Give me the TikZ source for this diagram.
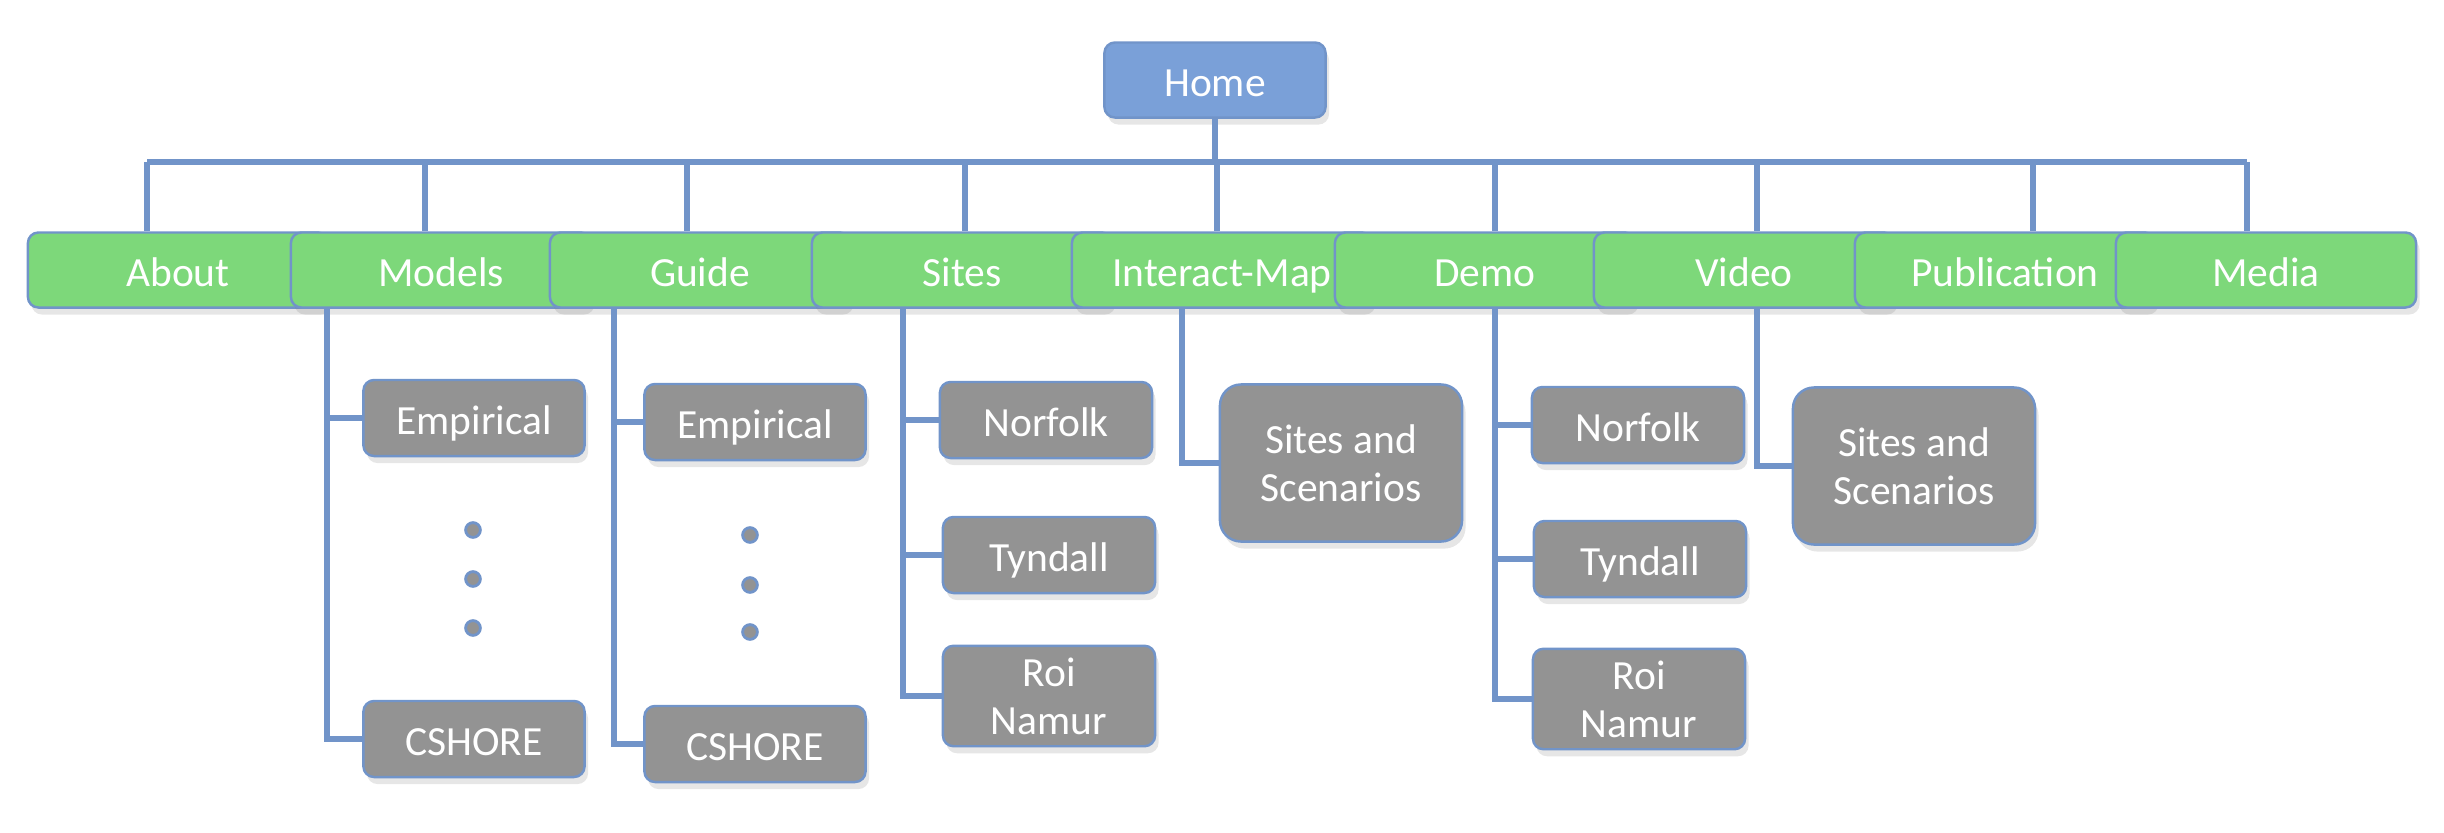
\documentclass[tikz,border=0pt]{standalone}
\usepackage{fontspec}
\setmainfont{Carlito}
\usetikzlibrary{shadows}
\definecolor{homeblue}{RGB}{122,160,216}
\definecolor{pagegreen}{RGB}{125,216,122}
\definecolor{subgray}{RGB}{147,147,147}
\definecolor{linkblue}{RGB}{113,148,201}

\begin{document}
\begin{tikzpicture}[x=0.01cm,y=-0.01cm,
  box/.style={draw=linkblue,line width=0.7pt,rounded corners=3pt,text=white,align=center,
    font=\fontsize{11.8}{13.7}\selectfont,
    drop shadow={opacity=0.2,shadow xshift=1pt,shadow yshift=-2pt}},
  oneline/.style={text height=10.5pt,text depth=1pt},
  home/.style={box,oneline,fill=homeblue,minimum width=2.21cm,minimum height=0.75cm},
  page/.style={box,oneline,fill=pagegreen,minimum width=3cm,minimum height=0.75cm},
  grayb/.style={box,fill=subgray,minimum width=2.12cm},
  sub/.style={grayb,oneline,minimum height=0.76cm},
  scen/.style={grayb,minimum width=2.42cm,minimum height=1.57cm,rounded corners=6pt},
  link/.style={linkblue,line width=1.7pt},
  dot/.style={fill=subgray,draw=linkblue,line width=0.8pt}]
\useasboundingbox (0,0) rectangle (2444,833);
% Home
\node[home] (home) at (1215,80) {Home};
% Pages
\foreach \name/\x/\label in {about/178/About,models/441/Models,guide/700/Guide,sites/962/Sites,imap/1222/Interact-Map,demo/1485/Demo,video/1744/Video,publ/2005/Publication,media/2266/Media}
  \node[page] (\name) at (\x,270) {\label};
% Bus
\coordinate (busL) at (147,162);
\coordinate (busR) at (2247,162);
\draw[link] (home.south) -- (home.south |- busL);
\draw[link] (busL) -- (busR);
\foreach \name/\x in {about/147,models/425,guide/687,sites/965,imap/1217,demo/1495,video/1757,publ/2033,media/2247}
  \draw[link] (\x,162) -- (\name.north -| \x,0);
% Models
\node[sub,minimum width=2.21cm] (modemp) at (474,418) {Empirical};
\node[sub,minimum width=2.21cm] (modcs) at (474,739) {CSHORE};
\draw[link] (models.south -| 327,0) |- (modemp.west);
\draw[link] (models.south -| 327,0) |- (modcs.west);
\foreach \y in {530,579,628}
  \filldraw[dot] (473,\y) circle (2.1pt);
% Guide
\node[sub,minimum width=2.21cm] (guiemp) at (755,422) {Empirical};
\node[sub,minimum width=2.21cm] (guics) at (755,744) {CSHORE};
\draw[link] (guide.south -| 614,0) |- (guiemp.west);
\draw[link] (guide.south -| 614,0) |- (guics.west);
\foreach \y in {535,585,632}
  \filldraw[dot] (750,\y) circle (2.1pt);
% Sites
\node[sub] (sitnor) at (1046,420) {Norfolk};
\node[sub] (sittyn) at (1049,555) {Tyndall};
\node[grayb,minimum height=0.97cm] (sitroi) at (1049,696) {Roi\\Namur};
\draw[link] (sites.south -| 903,0) |- (sitnor.west);
\draw[link] (sites.south -| 903,0) |- (sittyn.west);
\draw[link] (sites.south -| 903,0) |- (sitroi.west);
% Interact-Map
\node[scen] (mapsas) at (1341,463) {Sites and\\Scenarios};
\draw[link] (imap.south -| 1182,0) |- (mapsas.west);
% Demo
\node[sub] (demnor) at (1638,425) {Norfolk};
\node[sub] (demtyn) at (1640,559) {Tyndall};
\node[grayb,minimum height=0.95cm] (demroi) at (1639,699) {Roi\\Namur};
\draw[link] (demo.south -| 1495,0) |- (demnor.west);
\draw[link] (demo.south -| 1495,0) |- (demtyn.west);
\draw[link] (demo.south -| 1495,0) |- (demroi.west);
% Video
\node[scen] (vidsas) at (1914,466) {Sites and\\Scenarios};
\draw[link] (video.south -| 1757,0) |- (vidsas.west);
\end{tikzpicture}
\end{document}
